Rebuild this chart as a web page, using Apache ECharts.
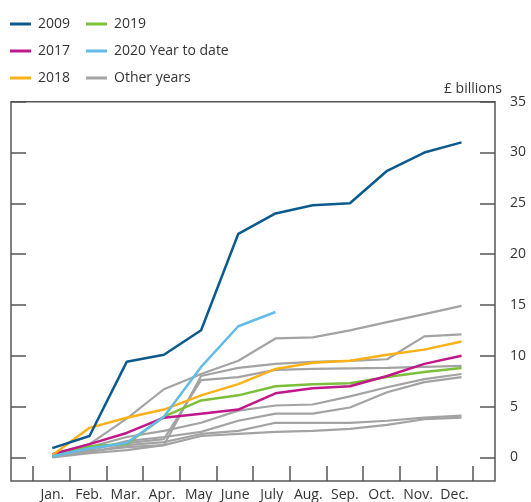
<!DOCTYPE html>
<html>
<head>
<meta charset="utf-8">
<script src="https://cdn.jsdelivr.net/npm/echarts@6/dist/echarts.min.js"></script>
<style>
html,body{margin:0;padding:0;background:#fff;}
#c{width:531px;height:502px;}
</style>
</head>
<body>
<div id="c"></div>
<script>
// ---- Data (cumulative, £ billions) ----
var months = ['Jan.','Feb.','Mar.','Apr.','May','June','July','Aug.','Sep.','Oct.','Nov.','Dec.'];
var yTicks = [0,5,10,15,20,25,30,35];

var y2009 = [0.9, 2.1, 9.4, 10.1, 12.5, 22.0, 24.0, 24.8, 25.0, 28.2, 30.0, 31.0];
var y2017 = [0.3, 1.3, 2.4, 3.9, 4.3, 4.7, 6.3, 6.8, 7.0, 8.0, 9.2, 10.0];
var y2018 = [0.2, 2.9, 3.9, 4.7, 6.1, 7.2, 8.7, 9.3, 9.5, 10.1, 10.6, 11.4];
var y2019 = [0.1, 1.1, 1.3, 4.0, 5.6, 6.1, 7.0, 7.2, 7.3, 7.9, 8.4, 8.8];
var y2020 = [0.1, 0.9, 1.4, 4.0, 8.9, 12.9, 14.3];

var other1 = [0.3, 1.3, 3.8, 6.7, 8.2, 9.5, 11.7, 11.8, 12.5, 13.3, 14.1, 14.9];
var other2 = [0.1, 0.6, 1.0, 1.2, 8.0, 8.8, 9.2, 9.4, 9.5, 9.65, 11.9, 12.1];
var other3 = [0.2, 0.8, 1.4, 1.8, 7.6, 7.9, 8.6, 8.7, 8.75, 8.8, 8.9, 9.0];
var other4 = [0.2, 1.0, 2.0, 2.6, 3.4, 4.6, 5.1, 5.2, 6.0, 6.9, 7.7, 8.2];
var other5 = [0.1, 0.7, 1.6, 2.0, 2.5, 3.6, 4.3, 4.3, 4.9, 6.4, 7.4, 7.9];
var other6 = [0.1, 0.5, 1.2, 1.5, 2.3, 2.6, 3.4, 3.4, 3.4, 3.6, 3.9, 4.1];
var other7 = [0.0, 0.4, 0.7, 1.2, 2.1, 2.3, 2.5, 2.6, 2.8, 3.2, 3.75, 3.9];
var otherYears = [other1, other2, other3, other4, other5, other6, other7];

// ---- Styles ----
var C2009 = '#0b5a8e', C2017 = '#c0178a', C2018 = '#fbb117', C2019 = '#7bbf3b', C2020 = '#63bbe8', COTHER = '#a3a3a3';
var FONT = 'Open Sans';
var LBL = 0.983;   // label spacing along x
var TCK = 0.986;   // tick spacing along x

function pts(arr){ return arr.map(function(v,i){ return [i, v]; }); }
function lineSeries(name, arr, color, w, z){
  return {type:'line', name:name, data:pts(arr), symbol:'none', showSymbol:false,
    lineStyle:{color:color, width:w}, itemStyle:{color:color}, z:z, silent:true, animation:false,
    xAxisIndex:0, yAxisIndex:0};
}

var series = [];
otherYears.forEach(function(a){ series.push(lineSeries('Other years', a, COTHER, 2.2, 2)); });
series.push(lineSeries('2019', y2019, C2019, 2.5, 3));
series.push(lineSeries('2017', y2017, C2017, 2.5, 4));
series.push(lineSeries('2018', y2018, C2018, 2.5, 5));
series.push(lineSeries('2009', y2009, C2009, 2.5, 6));
series.push(lineSeries('2020 Year to date', y2020, C2020, 2.5, 7));

var xTickVals = [];
for (var k = 0; k <= 12; k++) xTickVals.push(-0.52 + TCK * k);
var xLabelVals = months.map(function(m, i){ return i * LBL; });

var legendCommon = {orient:'vertical', top:14, padding:0, itemWidth:21, itemHeight:3, itemGap:7, icon:'rect',
  textStyle:{fontFamily:FONT, fontSize:14, color:'#333', lineHeight:20, padding:[0,0,0,2]}, selectedMode:false};

var tickStyle = {color:'#555', width:1.5};

var option = {
  animation:false,
  backgroundColor:'#fff',
  grid:{left:11, right:36, top:101.7, bottom:20, show:true, borderColor:'#555', borderWidth:1.5, backgroundColor:'transparent'},
  legend:[
    Object.assign({left:10, data:['2009','2017','2018']}, legendCommon),
    Object.assign({left:86, data:['2019','2020 Year to date','Other years']}, legendCommon)
  ],
  xAxis:{
    type:'value', min:-1.11, max:11.9, position:'bottom',
    splitLine:{show:false},
    axisLine:{show:false, onZero:false},
    axisTick:{show:true, inside:true, length:15, lineStyle:tickStyle, customValues:xTickVals},
    axisLabel:{show:true, margin:7, fontFamily:FONT, fontSize:14, color:'#333', customValues:xLabelVals,
      formatter:function(v){ return months[Math.round(v / LBL)]; }}
  },
  yAxis:[
    {type:'value', min:-2.33, max:35, position:'right',
      splitLine:{show:false}, axisLine:{show:false, onZero:false},
      axisTick:{show:true, inside:true, length:15, lineStyle:tickStyle, customValues:yTicks},
      axisLabel:{show:true, margin:15, fontFamily:FONT, fontSize:14, color:'#333', customValues:yTicks}},
    {type:'value', min:-2.33, max:35, position:'left',
      splitLine:{show:false}, axisLine:{show:false, onZero:false},
      axisTick:{show:true, inside:true, length:15, lineStyle:tickStyle, customValues:yTicks},
      axisLabel:{show:false}}
  ],
  graphic:[
    {type:'text', right:29, top:82, style:{text:'£ billions', font:'14px "Open Sans"', fill:'#333'}}
  ],
  series:series
};

var chart = echarts.init(document.getElementById('c'), null, {renderer:'canvas'});
chart.setOption(option);
</script>
</body>
</html>
